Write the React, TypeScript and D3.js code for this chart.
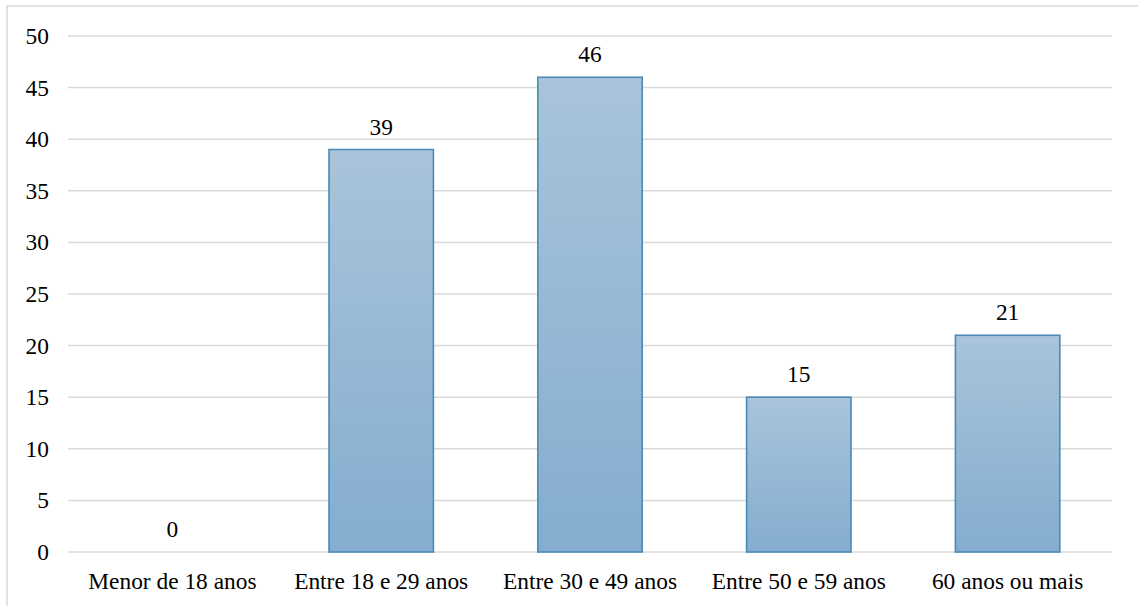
import React from "react";
import * as d3 from "d3";

const categories = ["Menor de 18 anos", "Entre 18 e 29 anos", "Entre 30 e 49 anos", "Entre 50 e 59 anos", "60 anos ou mais"];
const values = [0, 39, 46, 15, 21];
const yTicks = [0, 5, 10, 15, 20, 25, 30, 35, 40, 45, 50];

const W = 1138;
const H = 606;
const margin = { left: 68, right: 26, top: 36, bottom: 54 };

export default function App() {
  const x = d3
    .scaleBand<string>()
    .domain(categories)
    .range([margin.left, W - margin.right])
    .paddingInner(0.5)
    .paddingOuter(0.25);
  const y = d3.scaleLinear().domain([0, 50]).range([H - margin.bottom, margin.top]);
  const font = '"Liberation Serif", "Times New Roman", Times, "DejaVu Serif", serif';
  const fs = 23.4;

  return (
    <svg
      width={W}
      height={H}
      style={{ position: "absolute", left: 0, top: 0, background: "#fff", fontFamily: font }}
    >
      <defs>
        <linearGradient id="barGrad" x1="0" y1="0" x2="0" y2="1">
          <stop offset="0%" stopColor="#a9c4da" />
          <stop offset="100%" stopColor="#84add0" />
        </linearGradient>
      </defs>
      <rect x={7} y={6} width={W + 10} height={H + 10} fill="none" stroke="#d9d9d9" strokeWidth={1.5} />
      {yTicks.map((t) => (
        <g key={t}>
          <line x1={margin.left} x2={W - margin.right} y1={y(t)} y2={y(t)} stroke="#d9d9d9" strokeWidth={1.5} />
          <text x={49} y={y(t) + 8} textAnchor="end" style={{ fontFamily: font, fontSize: fs }} fill="#000">
            {t}
          </text>
        </g>
      ))}
      {categories.map((c, i) => {
        const v = values[i];
        const bx = x(c)!;
        const bw = x.bandwidth();
        const top = y(v);
        const h = y(0) - top;
        return (
          <g key={c}>
            {v > 0 && (
              <rect x={bx} y={top} width={bw} height={h} fill="url(#barGrad)" stroke="#4a8ab5" strokeWidth={1.6} />
            )}
            <text x={bx + bw / 2} y={top - 15} textAnchor="middle" style={{ fontFamily: font, fontSize: fs }} fill="#000">
              {v}
            </text>
            <text x={bx + bw / 2} y={589} textAnchor="middle" style={{ fontFamily: font, fontSize: fs }} fill="#000">
              {c}
            </text>
          </g>
        );
      })}
    </svg>
  );
}
